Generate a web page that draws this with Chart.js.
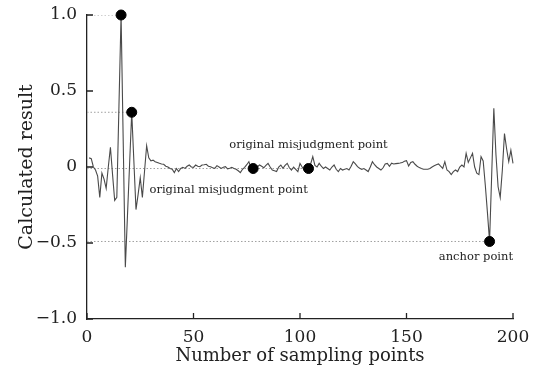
<!DOCTYPE html>
<html>
<head>
<meta charset="utf-8">
<script src="https://cdn.jsdelivr.net/npm/chart.js@4.4.0/dist/chart.umd.min.js"></script>
<style>
  html, body { margin: 0; padding: 0; background: #fff; }
</style>
</head>
<body>
<canvas id="chart" width="534" height="377"></canvas>
<script>
// calculated result for sampling points 1..200
const signal = [
  0.06, 0.055, 0.0, -0.02, -0.06, -0.2, -0.04, -0.08, -0.14, 0.0,
  0.13, -0.05, -0.22, -0.2, 0.4, 1.0, 0.17, -0.66, -0.32, 0.02,
  0.36, 0.04, -0.28, -0.18, -0.07, -0.2, -0.03, 0.14, 0.06, 0.04,
  0.045, 0.035, 0.03, 0.024, 0.02, 0.018, 0.005, 0.0, -0.01, -0.015,
  -0.037, -0.01, -0.03, -0.01, -0.002, -0.009, 0.005, 0.013, 0.0, -0.002,
  0.013, 0.005, 0.002, 0.013, 0.015, 0.018, 0.005, 0.002, -0.005, -0.009,
  0.009, 0.0, -0.009, -0.002, 0.002, -0.012, -0.008, -0.002, -0.01, -0.015,
  -0.025, -0.037, -0.015, -0.002, 0.015, 0.035, -0.01, -0.01, -0.004, 0.002,
  0.013, 0.005, -0.005, 0.01, 0.024, 0.0, -0.02, -0.025, -0.03, 0.0,
  0.013, -0.009, 0.01, 0.024, -0.005, -0.02, 0.0, -0.015, -0.03, 0.024,
  0.0, -0.02, -0.015, -0.01, 0.02, 0.068, 0.01, 0.0, 0.024, 0.005,
  -0.01, 0.0, -0.01, -0.02, 0.0, 0.013, -0.015, -0.03, -0.01, -0.02,
  -0.015, -0.01, -0.02, 0.005, 0.035, 0.02, 0.002, -0.008, -0.015, -0.01,
  -0.02, -0.03, 0.0, 0.035, 0.015, 0.0, -0.01, -0.02, -0.005, 0.02,
  0.024, 0.005, 0.025, 0.02, 0.022, 0.024, 0.026, 0.029, 0.038, 0.042,
  0.007, 0.03, 0.035, 0.018, 0.005, -0.004, -0.01, -0.015, -0.015, -0.015,
  -0.01, 0.0, 0.008, 0.015, 0.02, 0.005, -0.009, 0.035, -0.02, -0.03,
  -0.05, -0.03, -0.02, -0.03, 0.0, 0.013, 0.0, 0.09, 0.03, 0.06,
  0.09, 0.0, -0.04, -0.05, 0.068, 0.04, -0.12, -0.3, -0.49, -0.05,
  0.386, 0.08, -0.13, -0.2, -0.02, 0.22, 0.12, 0.035, 0.11, 0.024
];
const samples = signal.map((v, i) => i + 1);

// highlighted samples: two peaks, two misjudgments, the anchor
const markIdx = [16, 21, 78, 104, 189];
// dotted guides run from the y axis out to these samples
const guideIdx = [16, 21, 104, 189];

const xTicks = [0, 50, 100, 150, 200];
const yTicks = [-1, -0.5, 0, 0.5, 1];

const notes = [
  { text: 'original misjudgment point', x: 104, y: 0.145 },
  { text: 'original misjudgment point', x: 66.5, y: -0.15 },
  { text: 'anchor point', x: 182.6, y: -0.59 }
];

const FONT = 'DejaVu Serif';
const INK = '#222';

const linePts = samples.map((x, i) => ({ x: x, y: signal[i] }));
const markPts = markIdx.map(i => ({ x: i, y: signal[i - 1] }));
const guideSets = guideIdx.map(i => ({
  data: [{ x: 0, y: signal[i - 1] }, { x: i, y: signal[i - 1] }],
  borderColor: '#a0a0a0',
  borderWidth: 1,
  borderDash: [1.5, 2],
  pointRadius: 0,
  order: 3
}));

const fmtY = v => v === 0 ? '0' : (v < 0 ? '\u2212' : '') + Math.abs(v).toFixed(1);

// short tick marks pointing into the plot
const innerTicks = {
  id: 'innerTicks',
  afterDraw(chart) {
    const { ctx, chartArea: a, scales: { x, y } } = chart;
    ctx.save();
    ctx.strokeStyle = INK;
    ctx.lineWidth = 1.3;
    ctx.beginPath();
    xTicks.forEach(t => {
      const px = x.getPixelForValue(t);
      ctx.moveTo(px, a.bottom);
      ctx.lineTo(px, a.bottom - 6);
    });
    yTicks.forEach(t => {
      const py = y.getPixelForValue(t);
      ctx.moveTo(a.left, py);
      ctx.lineTo(a.left + 6, py);
    });
    ctx.stroke();
    ctx.restore();
  }
};

const noteText = {
  id: 'noteText',
  afterDatasetsDraw(chart) {
    const { ctx, scales: { x, y } } = chart;
    ctx.save();
    ctx.fillStyle = INK;
    ctx.font = '11.5px "' + FONT + '"';
    ctx.textAlign = 'center';
    ctx.textBaseline = 'middle';
    notes.forEach(n => ctx.fillText(n.text, x.getPixelForValue(n.x), y.getPixelForValue(n.y)));
    ctx.restore();
  }
};

new Chart(document.getElementById('chart'), {
  type: 'line',
  data: {
    datasets: [
      {
        type: 'scatter',
        data: markPts,
        backgroundColor: '#000',
        borderColor: '#000',
        pointRadius: 5,
        clip: false,
        order: 1
      },
      {
        data: linePts,
        borderColor: '#4a4a4a',
        borderWidth: 1.1,
        pointRadius: 0,
        tension: 0,
        clip: false,
        order: 2
      },
      ...guideSets
    ]
  },
  options: {
    responsive: false,
    animation: false,
    devicePixelRatio: 1,
    layout: { padding: { top: 15, right: 21, bottom: 0, left: 0 } },
    plugins: { legend: { display: false }, tooltip: { enabled: false } },
    scales: {
      x: {
        type: 'linear',
        min: 0,
        max: 200,
        afterBuildTicks: s => { s.ticks = xTicks.map(v => ({ value: v })); },
        afterFit: s => { s.height = 58; s.paddingLeft = 0; s.paddingRight = 0; },
        grid: { display: false, drawTicks: false },
        border: { display: true, color: INK, width: 1.3 },
        ticks: { color: INK, padding: 8, maxRotation: 0, font: { family: FONT, size: 17 } },
        title: {
          display: true,
          text: 'Number of sampling points',
          color: INK,
          padding: { top: 0, bottom: 10 },
          font: { family: FONT, size: 18 }
        }
      },
      y: {
        min: -1,
        max: 1,
        afterBuildTicks: s => { s.ticks = yTicks.map(v => ({ value: v })); },
        afterFit: s => { s.width = 87; s.paddingTop = 0; s.paddingBottom = 0; },
        grid: { display: false, drawTicks: false },
        border: { display: true, color: INK, width: 1.3 },
        ticks: { color: INK, padding: 10, callback: fmtY, font: { family: FONT, size: 17 } },
        title: {
          display: true,
          text: 'Calculated result',
          color: INK,
          padding: { top: 16, bottom: 0 },
          font: { family: FONT, size: 19 }
        }
      }
    }
  },
  plugins: [innerTicks, noteText]
});
</script>
</body>
</html>
